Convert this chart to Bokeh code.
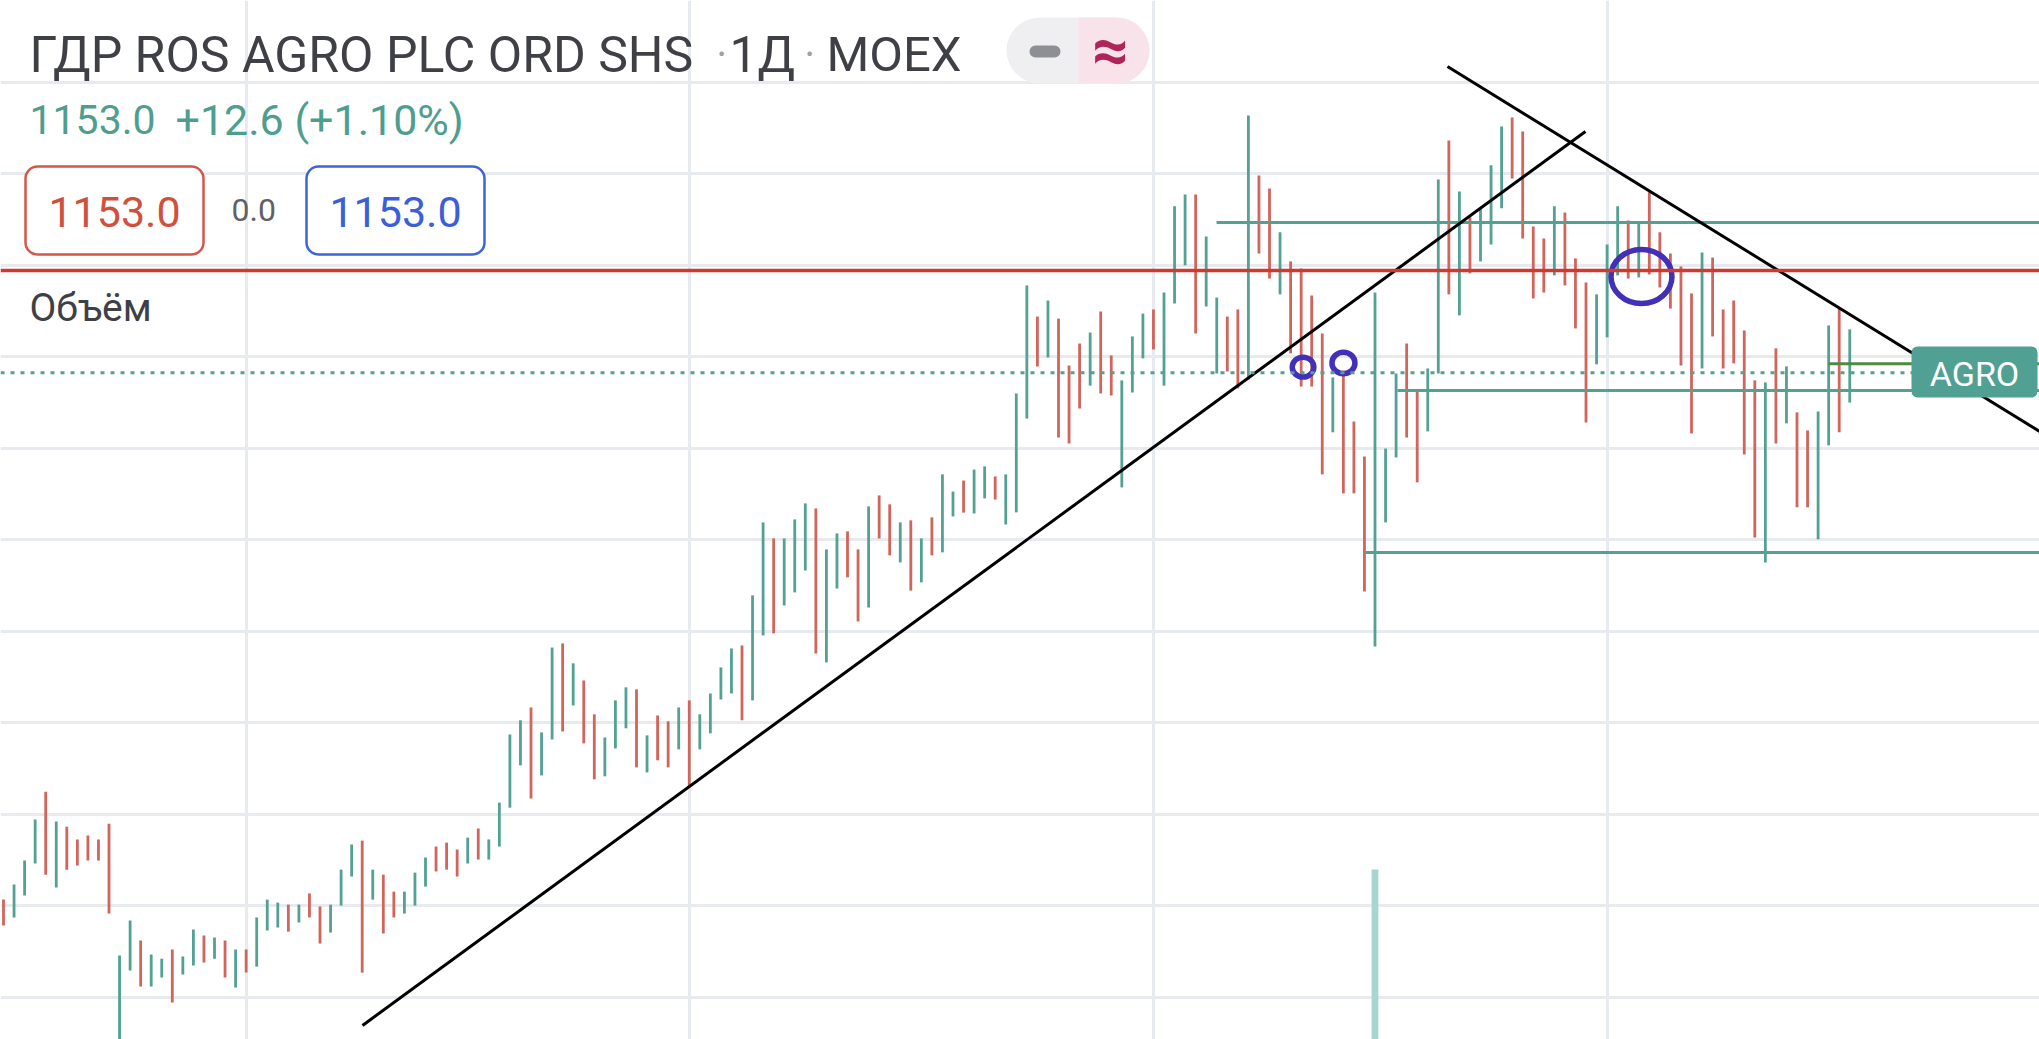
from bokeh.plotting import figure
from bokeh.models import Range1d, Grid, FixedTicker, Label, BoxAnnotation, Span
from bokeh.embed import file_html
from bokeh.resources import INLINE

W, H = 2039, 1039

# ---------------- data (daily high / low, direction 1 = up, 0 = down) -------------
highs = [922.7, 929.3, 939.8, 957.7, 969.9, 956.8, 954.6, 949.0, 950.7, 949.0,
         955.9, 898.3, 913.6, 904.8, 898.7, 896.9, 900.9, 897.8, 909.6, 907.0,
         906.1, 904.8, 900.9, 900.9, 914.9, 922.7, 921.4, 920.5, 920.5, 925.4,
         919.7, 920.5, 935.8, 946.8, 948.5, 935.8, 933.6, 926.2, 926.2, 934.5,
         941.1, 945.9, 947.6, 944.6, 949.8, 953.8, 949.0, 965.1, 994.9, 1001.1,
         1006.7, 995.8, 1032.9, 1034.7, 1026.0, 1018.5, 1003.7, 993.6, 1009.8, 1015.5,
         1014.6, 994.5, 1003.2, 1000.6, 1006.7, 1009.8, 1003.7, 1012.8, 1024.2, 1032.5,
         1033.8, 1055.7, 1087.6, 1080.6, 1080.6, 1088.9, 1095.9, 1093.7, 1075.8, 1082.8,
         1083.7, 1075.8, 1094.6, 1099.4, 1095.5, 1087.6, 1088.5, 1080.6, 1089.8, 1108.6,
         1101.1, 1105.9, 1110.7, 1112.1, 1107.7, 1108.6, 1144.0, 1191.2, 1177.6, 1184.6,
         1176.7, 1156.2, 1165.8, 1170.6, 1179.8, 1160.6, 1149.7, 1168.9, 1178.9, 1180.7,
         1188.1, 1225.8, 1231.0, 1231.0, 1212.6, 1185.9, 1177.6, 1180.7, 1265.5, 1239.3,
         1233.6, 1214.4, 1201.7, 1198.6, 1186.8, 1170.2, 1151.0, 1154.0, 1131.7, 1116.4,
         1188.1, 1119.9, 1152.7, 1165.8, 1145.3, 1154.9, 1237.5, 1254.6, 1232.3, 1221.0,
         1224.9, 1243.7, 1260.7, 1264.6, 1258.5, 1217.0, 1211.7, 1225.8, 1223.1, 1203.0,
         1192.5, 1187.3, 1209.1, 1225.8, 1219.6, 1218.3, 1231.9, 1214.4, 1205.2, 1199.5,
         1187.7, 1205.6, 1203.4, 1180.7, 1184.6, 1171.5, 1149.7, 1148.8, 1163.7, 1155.8,
         1135.7, 1127.8, 1136.1, 1173.7, 1181.1, 1172.0]
lows = [911.4, 914.9, 924.5, 938.5, 933.6, 928.0, 935.8, 937.6, 939.8, 939.8,
        916.6, 858.9, 891.7, 884.7, 884.7, 888.6, 877.7, 890.0, 893.9, 895.2,
        896.9, 888.6, 884.3, 890.8, 893.4, 909.2, 910.5, 908.7, 912.7, 914.9,
        903.5, 908.3, 920.1, 932.8, 890.8, 922.7, 907.9, 914.9, 916.6, 920.1,
        928.4, 935.0, 935.8, 932.8, 938.5, 940.2, 940.2, 945.9, 962.9, 981.4,
        966.9, 977.0, 992.7, 996.2, 1007.6, 991.0, 975.3, 976.6, 988.8, 997.6,
        980.5, 978.3, 983.6, 980.5, 988.4, 971.8, 988.4, 995.4, 1010.2, 1012.8,
        1001.1, 1009.8, 1038.2, 1039.1, 1051.3, 1057.0, 1066.6, 1030.3, 1026.4, 1058.7,
        1063.6, 1044.3, 1050.4, 1080.6, 1073.2, 1070.1, 1057.8, 1061.4, 1073.2, 1074.5,
        1090.2, 1091.9, 1091.5, 1098.1, 1097.6, 1086.7, 1092.0, 1133.0, 1155.8, 1159.7,
        1124.7, 1122.1, 1137.4, 1147.4, 1144.0, 1143.1, 1102.9, 1144.4, 1159.3, 1163.2,
        1147.4, 1183.3, 1200.0, 1170.2, 1182.0, 1152.7, 1153.6, 1146.2, 1150.1, 1205.2,
        1194.2, 1187.3, 1161.5, 1147.0, 1147.0, 1108.6, 1127.0, 1100.3, 1100.3, 1057.4,
        1033.4, 1087.6, 1116.0, 1124.7, 1105.1, 1127.4, 1152.7, 1187.3, 1178.1, 1196.5,
        1201.7, 1209.1, 1224.9, 1238.0, 1211.7, 1185.5, 1188.1, 1195.6, 1191.2, 1172.4,
        1131.3, 1156.7, 1168.5, 1195.6, 1194.2, 1194.7, 1196.0, 1190.3, 1181.1, 1156.2,
        1126.5, 1154.9, 1168.9, 1154.9, 1157.1, 1117.3, 1081.0, 1070.1, 1122.1, 1130.9,
        1094.2, 1094.2, 1080.2, 1121.3, 1127.0, 1140.0]
rising = [0, 1, 1, 1, 0, 1, 0, 0, 0, 0,
          0, 1, 1, 0, 1, 1, 0, 1, 1, 0,
          1, 0, 1, 0, 1, 1, 1, 0, 1, 0,
          0, 1, 1, 1, 0, 1, 0, 0, 1, 1,
          1, 0, 0, 0, 1, 0, 1, 1, 1, 1,
          0, 1, 1, 0, 1, 0, 0, 1, 1, 1,
          0, 1, 0, 0, 1, 0, 1, 1, 1, 1,
          0, 1, 1, 0, 1, 1, 1, 0, 1, 1,
          0, 0, 1, 0, 0, 1, 0, 1, 0, 1,
          1, 0, 1, 1, 0, 1, 1, 1, 0, 1,
          0, 0, 0, 1, 0, 0, 1, 1, 1, 0,
          1, 1, 1, 0, 1, 1, 0, 0, 1, 0,
          0, 1, 0, 0, 0, 0, 1, 0, 0, 0,
          1, 1, 1, 0, 0, 1, 1, 0, 1, 0,
          1, 1, 1, 0, 0, 0, 0, 1, 0, 0,
          0, 1, 1, 1, 0, 1, 0, 0, 0, 0,
          0, 1, 0, 0, 0, 0, 0, 1, 0, 1,
          0, 0, 1, 1, 0, 1]
bar_index = list(range(len(highs)))

symbol_name = "ГДР ROS AGRO PLC ORD SHS"
interval = "1Д"
exchange = "MOEX"
ticker = "AGRO"
last_price = 1153.0
change_text = "+12.6 (+1.10%)"
spread_text = "0.0"
volume_title = "Объём"
grid_prices = [880, 920, 960, 1000, 1040, 1080, 1120, 1160, 1200, 1240, 1280]
month_bars = [23, 65, 109, 152]

volume_bars = [130]
volume_vals = [163.6]

# user drawings (bar index, price)
red_level = 1197.7
teal_levels = [1218.7, 1145.3, 1074.5]
teal_starts = [114.98, 132.13, 129.1]
green_level = 1157.0
green_start = 172.99
up_line_x = [34.03, 149.95]
up_line_y = [867.7, 1258.5]
down_line_x = [136.87, 192.99]
down_line_y = [1286.9, 1127.4]
circle_x = [123.18, 127.01, 155.26]
circle_y = [1155.5, 1157.3, 1195.1]
circle_w = [2.05, 2.18, 5.78]
circle_h = [8.7, 9.4, 23.6]

# ---------------- figure ------------------------------------------------------------
GREEN = "#52a193"
RED = "#d1645b"
x0 = -3.0 / 10.55
p = figure(width=W, height=H, output_backend="svg", toolbar_location=None,
           x_range=Range1d(x0, x0 + W / 10.55), y_range=Range1d(861.55, 1315.76),
           x_axis_location=None, y_axis_location=None, min_border=0,
           outline_line_color=None, background_fill_color="white",
           border_fill_color="white")
p.extra_x_ranges = {"px": Range1d(0, W)}
p.extra_y_ranges = {"py": Range1d(0, H), "vol": Range1d(0, 1000)}

for g in list(p.grid):
    g.visible = False

p.add_layout(Grid(dimension=1, ticker=FixedTicker(ticks=grid_prices),
                  grid_line_color="#e7eaee", grid_line_width=3))
p.add_layout(Grid(dimension=0, ticker=FixedTicker(ticks=month_bars),
                  grid_line_color="#e7eaee", grid_line_width=3))

# volume
p.vbar(x=volume_bars, top=volume_vals, bottom=0, width=0.64, y_range_name="vol",
       fill_color="#a7d6d0", line_color=None)

# price bars (high-low)
cols = [GREEN if r else RED for r in rising]
p.segment(x0=bar_index, x1=bar_index, y0=lows, y1=highs, line_color=cols, line_width=2.8)

# horizontal drawings
right_edge = x0 + W / 10.55
p.segment(x0=teal_starts, x1=[right_edge] * len(teal_starts), y0=teal_levels, y1=teal_levels,
          line_color=GREEN, line_width=3)
p.segment(x0=[green_start], x1=[right_edge], y0=[green_level], y1=[green_level],
          line_color="#4f8b3e", line_width=3)
p.add_layout(Span(location=last_price, dimension="width", line_color=GREEN,
                  line_width=3, line_dash="4 6"))
p.add_layout(Span(location=red_level, dimension="width", line_color="#d2392e", line_width=3.5))

# trend lines
p.line(up_line_x, up_line_y, line_color="black", line_width=3)
p.line(down_line_x, down_line_y, line_color="black", line_width=3)

# hand-drawn circles
p.ellipse(x=circle_x, y=circle_y, width=circle_w, height=circle_h, fill_alpha=0,
          line_color="#4330b8", line_width=5.5)

# ---------------- header / UI elements (pixel coordinates from top) -------------------
BASE_SHIFT = 13  # alphabetic baseline correction


def box(l, r, t, b, **kw):
    kw.setdefault("line_alpha", 1)
    kw.setdefault("fill_alpha", 1)
    p.add_layout(BoxAnnotation(left=l, right=r, top=H - t, bottom=H - b,
                               x_range_name="px", y_range_name="py", **kw))


def label(x, y, text, **kw):
    kw.setdefault("text_baseline", "alphabetic")
    kw.setdefault("text_font", FONT)
    if kw["text_baseline"] == "alphabetic":
        y = y - BASE_SHIFT
    p.add_layout(Label(x=x, y=H - y, text=text, x_range_name="px", y_range_name="py", **kw))


FONT = "Roboto"
TITLE = "#3f4046"
label(29, 67, symbol_name, text_font_size="50px", text_color=TITLE)
label(716, 67, "·", text_font_size="40px", text_color="#a0a1a6")
label(729, 67, interval, text_font_size="50px", text_color=TITLE)
label(804, 67, "·", text_font_size="40px", text_color="#a0a1a6")
label(826, 67, exchange, text_font_size="49px", text_color=TITLE)

# toggle pill
box(1006, 1149, 17, 83, fill_color="#efeff2", line_color=None, border_radius=33)
box(1078, 1149, 17, 83, fill_color="#f9e3ea", line_color=None, border_radius=(0, 33, 33, 0))
box(1029, 1060, 45, 57, fill_color="#8e8f94", line_color=None, border_radius=6)
label(1110, 50, "≈", text_font_size="64px", text_font_style="bold",
      text_color="#b1245a", text_align="center", text_baseline="middle")

label(29, 132, f"{last_price:.1f}", text_font_size="41px", text_color="#4e9e8f")
label(175, 132, change_text, text_font_size="43px", text_color="#4e9e8f")

box(25, 203, 166, 254, fill_color="white", line_color="#d5574a",
    line_width=2.5, border_radius=12)
label(114, 224, f"{last_price:.1f}", text_font_size="43px",
      text_color="#d0503e", text_align="center")
label(231, 222, spread_text, text_font_size="32px", text_color="#5f6166")
box(306, 484, 166, 254, fill_color="white", line_color="#3d63dd",
    line_width=2.5, border_radius=12)
label(395, 224, f"{last_price:.1f}", text_font_size="43px",
      text_color="#3b5fd9", text_align="center")

label(29, 320, volume_title, text_font_size="39px", text_color=TITLE)

# price label
box(1911, 2037, 346, 397, fill_color="#50a193", line_color=None, border_radius=6)
label(1974, 373, ticker, text_font_size="34px", text_color="white",
      text_align="center", text_baseline="middle")

open("out.html", "w").write(file_html(p, INLINE))
